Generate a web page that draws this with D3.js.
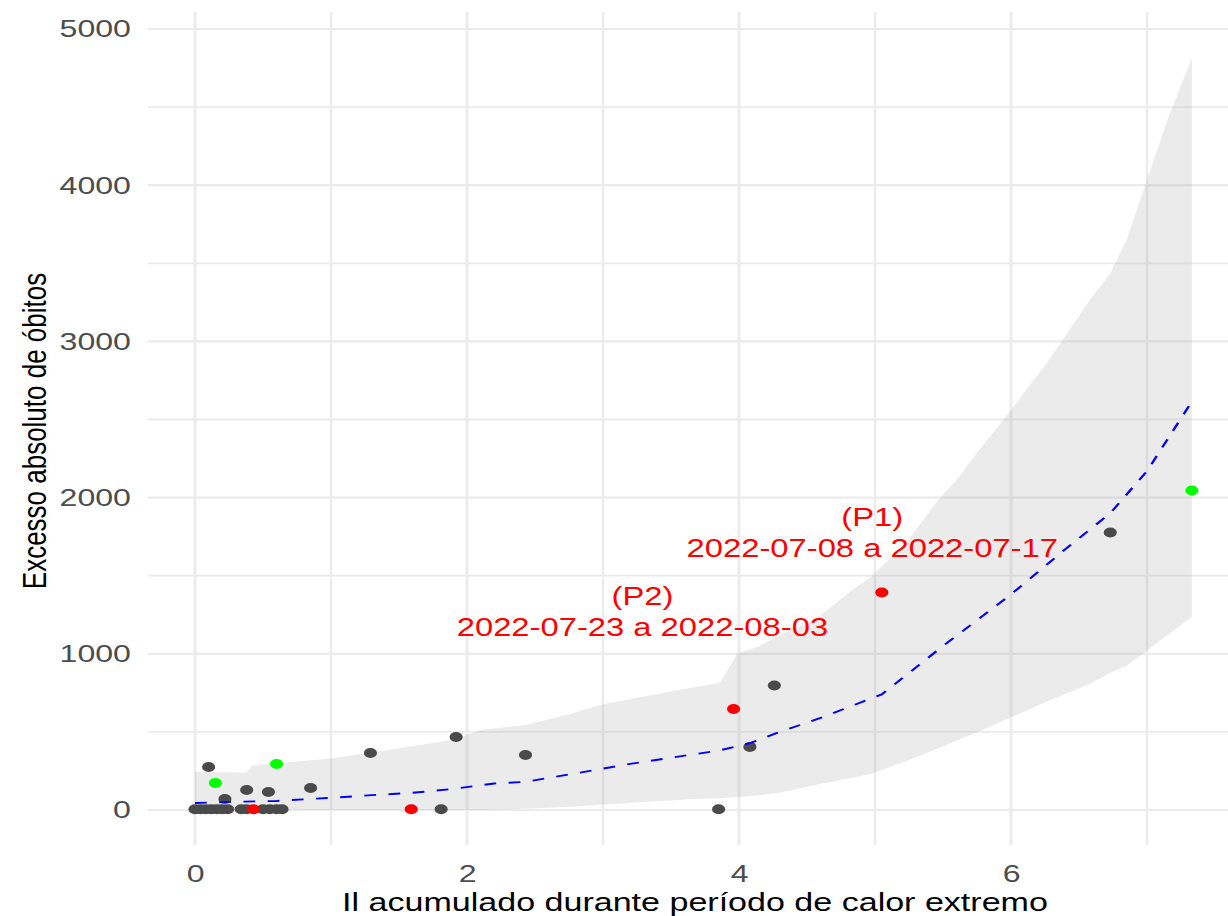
<!DOCTYPE html>
<html>
<head>
<meta charset="utf-8">
<script src="https://cdn.jsdelivr.net/npm/d3@7"></script>
<style>
  html, body { margin: 0; padding: 0; background: #fff; }
  svg { display: block; }
  text { font-family: "Liberation Sans", Arial, sans-serif; }
</style>
</head>
<body>
<svg id="chart"></svg>
<script>
// points
const grayPoints = [
  [0.0, 5], [0.04, 5], [0.08, 5], [0.12, 5], [0.16, 5], [0.2, 5], [0.24, 5],
  [0.34, 5], [0.38, 5], [0.5, 5], [0.55, 5], [0.6, 5], [0.64, 5],
  [1.81, 5], [3.85, 5],
  [0.1, 275], [0.22, 70], [0.38, 128], [0.54, 115], [0.85, 141],
  [1.29, 365], [1.92, 467], [2.43, 352], [4.08, 404], [4.26, 797], [6.73, 1777]
];
const redPoints = [[0.43, 5], [1.59, 5], [3.96, 647], [5.05, 1392]];
const greenPoints = [[0.15, 173], [0.6, 294], [7.33, 2045]];

// fitted curve (dashed) and its band
const fitX = [0, 0.25, 0.6, 1.0, 1.3, 1.6, 1.9, 2.2, 2.43, 2.8, 3.2, 3.5, 3.85, 4.08, 4.27, 4.6, 5.05, 5.5, 6.0, 6.4, 6.73, 7.0, 7.33];
const fitY = [45, 52, 58, 78, 95, 110, 135, 170, 180, 235, 295, 335, 380, 428, 490, 590, 740, 1050, 1380, 1670, 1900, 2170, 2615];

const bandX = [0, 0.38, 0.42, 1.0, 1.5, 1.9, 2.1, 2.43, 2.74, 2.98, 3.29, 3.68, 3.86, 3.99, 4.15, 4.3, 4.56, 4.82, 4.97, 5.24, 5.46, 5.6, 5.79, 6.0, 6.29, 6.58, 6.73, 6.85, 7.0, 7.15, 7.33];
const bandHigh = [245, 238, 285, 330, 395, 450, 512, 544, 610, 672, 725, 787, 815, 1004, 1048, 1120, 1218, 1400, 1492, 1723, 1980, 2112, 2330, 2560, 2893, 3265, 3437, 3649, 4033, 4417, 4814];
const bandLow = [0, 0, 0, 0, 0, 0, 0, 8, 19, 33, 51, 70, 76, 83, 95, 110, 160, 205, 230, 317, 394, 444, 512, 593, 704, 806, 877, 923, 1021, 1119, 1236];

const xTicks = [0, 2, 4, 6];
const xMinor = [1, 3, 5, 7];
const yTicks = [0, 1000, 2000, 3000, 4000, 5000];
const yMinor = [500, 1500, 2500, 3500, 4500];

const periodLabels = [
  { lines: ["(P1)", "2022-07-08 a 2022-07-17"], x: 4.98, y: 1775 },
  { lines: ["(P2)", "2022-07-23 a 2022-08-03"], x: 3.29, y: 1268 }
];

const xTitle = "Il acumulado durante período de calor extremo";
const yTitle = "Excesso absoluto de óbitos";

// the picture is stretched sideways, so draw in a narrower viewBox
const SX = 1.31, W = 1228, H = 916, VW = W / SX;

const svg = d3.select("#chart")
  .attr("width", W)
  .attr("height", H)
  .attr("viewBox", `0 0 ${VW} ${H}`)
  .attr("preserveAspectRatio", "none");

const panel = { left: 148 / SX, right: 1242 / SX, top: 12, bottom: 845 };

const x = d3.scaleLinear().domain([0, 7]).range([195 / SX, 1147 / SX]);
const y = d3.scaleLinear().domain([0, 5000]).range([810, 29]);

const grid = svg.append("g");

grid.selectAll(".vminor").data(xMinor).join("line")
  .attr("x1", d => x(d)).attr("x2", d => x(d))
  .attr("y1", panel.top).attr("y2", panel.bottom)
  .attr("stroke", "#ebebeb").attr("stroke-width", 1.8);

grid.selectAll(".hminor").data(yMinor).join("line")
  .attr("x1", panel.left).attr("x2", panel.right)
  .attr("y1", d => y(d)).attr("y2", d => y(d))
  .attr("stroke", "#ebebeb").attr("stroke-width", 1.8);

grid.selectAll(".vmajor").data(xTicks).join("line")
  .attr("x1", d => x(d)).attr("x2", d => x(d))
  .attr("y1", panel.top).attr("y2", panel.bottom)
  .attr("stroke", "#ebebeb").attr("stroke-width", 2.2);

grid.selectAll(".hmajor").data(yTicks).join("line")
  .attr("x1", panel.left).attr("x2", panel.right)
  .attr("y1", d => y(d)).attr("y2", d => y(d))
  .attr("stroke", "#ebebeb").attr("stroke-width", 2.2);

// band
const band = d3.area()
  .x(i => x(bandX[i]))
  .y0(i => y(bandLow[i]))
  .y1(i => y(bandHigh[i]));

svg.append("path")
  .datum(d3.range(bandX.length))
  .attr("fill", "#999999")
  .attr("fill-opacity", 0.2)
  .attr("d", band);

// points
const dots = svg.append("g");
[[grayPoints, "#4a4a4a"], [greenPoints, "#00ff00"], [redPoints, "#ff0000"]].forEach(([pts, col]) => {
  dots.selectAll(null).data(pts).join("circle")
    .attr("cx", d => x(d[0]))
    .attr("cy", d => y(d[1]))
    .attr("r", 5)
    .attr("fill", col);
});

// dashed fit
const fitLine = d3.line()
  .x(i => x(fitX[i]))
  .y(i => y(fitY[i]));

svg.append("path")
  .datum(d3.range(fitX.length))
  .attr("fill", "none")
  .attr("stroke", "#0000ff")
  .attr("stroke-width", 1.9)
  .attr("stroke-dasharray", "9,9.5")
  .attr("d", fitLine);

// period labels
periodLabels.forEach(p => {
  const t = svg.append("text")
    .attr("x", x(p.x))
    .attr("y", y(p.y))
    .attr("text-anchor", "middle")
    .attr("fill", "#ff0000")
    .style("font-size", "25px");
  p.lines.forEach((line, i) => {
    t.append("tspan")
      .attr("x", x(p.x))
      .attr("dy", i === 0 ? "-0.28em" : "1.26em")
      .text(line);
  });
});

// axes
const yAxis = svg.append("g")
  .attr("transform", `translate(${panel.left},0)`)
  .call(d3.axisLeft(y).tickValues(yTicks).tickFormat(d3.format("d")).tickSize(0).tickPadding(13));
yAxis.select(".domain").remove();
yAxis.selectAll("text")
  .attr("fill", "#4d4d4d")
  .style("font-size", "24.5px")
  .style("font-family", '"Liberation Sans", Arial, sans-serif');

const xAxis = svg.append("g")
  .attr("transform", `translate(0,${panel.bottom})`)
  .call(d3.axisBottom(x).tickValues(xTicks).tickFormat(d3.format("d")).tickSize(0).tickPadding(20));
xAxis.select(".domain").remove();
xAxis.selectAll("text")
  .attr("fill", "#4d4d4d")
  .style("font-size", "24.5px")
  .style("font-family", '"Liberation Sans", Arial, sans-serif');

svg.append("text")
  .attr("x", (panel.left + panel.right) / 2)
  .attr("y", 911)
  .attr("text-anchor", "middle")
  .attr("fill", "#000")
  .style("font-size", "26px")
  .text(xTitle);

svg.append("text")
  .attr("transform", `translate(35,431) rotate(-90)`)
  .attr("text-anchor", "middle")
  .attr("fill", "#000")
  .style("font-size", "26px")
  .text(yTitle);
</script>
</body>
</html>
